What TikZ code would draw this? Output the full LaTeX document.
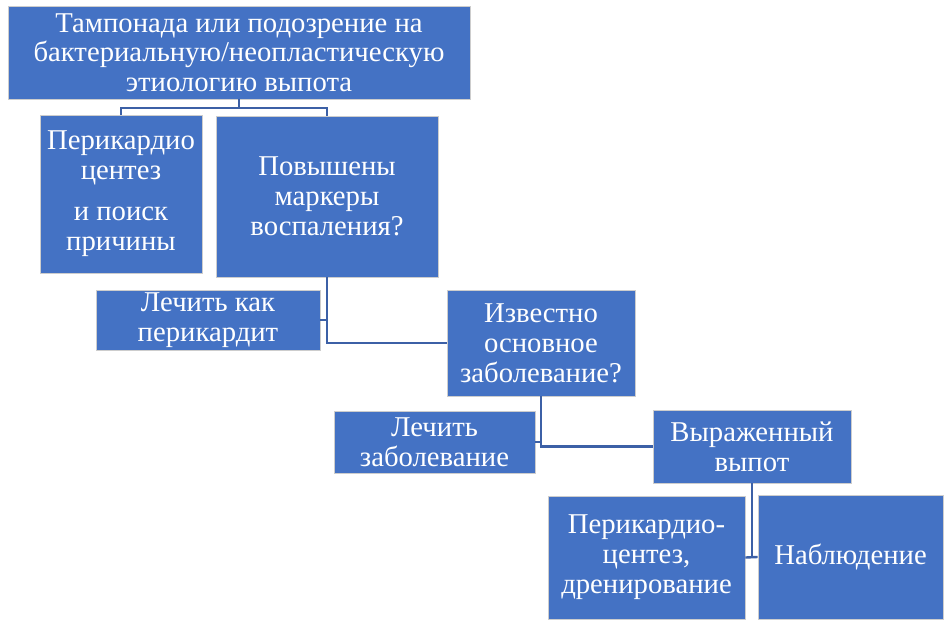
\documentclass[tikz,border=0pt]{standalone}
\usepackage{fontspec}
\setmainfont{Liberation Serif}
\definecolor{boxblue}{RGB}{68,114,196}
\definecolor{lineblue}{RGB}{60,96,166}
\definecolor{edgegray}{RGB}{205,205,205}
\begin{document}
\begin{tikzpicture}[x=1pt,y=-1pt,
  box/.style={rectangle, fill=boxblue, draw=edgegray, line width=0.8pt,
    text=white, align=center, inner sep=0pt,
    font=\fontsize{28.7}{30}\selectfont},
  conn/.style={draw=lineblue, line width=2.4pt}]
\useasboundingbox (0,0) rectangle (949,626);

\node[box, minimum width=462pt, minimum height=93pt, font=\fontsize{28.7}{29.5}\selectfont]
  (top) at (239,52.5) {Тампонада или подозрение на\\бактериальную/неопластическую\\этиологию выпота};
\node[box, minimum width=162pt, minimum height=158pt] (pc) at (121,194)
  {Перикардио\\центез\\[11pt]и поиск\\причины};
\node[box, minimum width=222pt, minimum height=161pt] (markers) at (327,196.5)
  {Повышены\\маркеры\\воспаления?};
\node[box, minimum width=224pt, minimum height=60pt] (treatP) at (208,320)
  {Лечить как\\перикардит};
\node[box, minimum width=188pt, minimum height=106pt] (known) at (541,343)
  {Известно\\основное\\заболевание?};
\node[box, minimum width=201pt, minimum height=62pt] (treatD) at (434.5,442)
  {Лечить\\заболевание};
\node[box, minimum width=198pt, minimum height=73pt] (effusion) at (752,446.5)
  {Выраженный\\выпот};
\node[box, minimum width=197pt, minimum height=123pt] (drain) at (646.5,557.5)
  {Перикардио-\\центез,\\дренирование};
\node[box, minimum width=185pt, minimum height=124pt] (observe) at (850.5,557)
  {Наблюдение};

\coordinate (j1) at (239,108);
\draw[conn] (top.south) -- (j1) -| (pc.north);
\draw[conn] (j1) -| (markers.north);
\draw[conn] (markers.south) |- (known.west);
\draw[conn] (treatP.east) -- (treatP.east -| markers.south);
\draw[conn] (known.south) |- (effusion.west);
\draw[conn] (treatD.east) -- (treatD.east -| known.south);
\draw[conn] (effusion.south) -- (effusion.south |- drain.east);
\draw[conn] (drain.east) -- (observe.west);
\end{tikzpicture}
\end{document}
